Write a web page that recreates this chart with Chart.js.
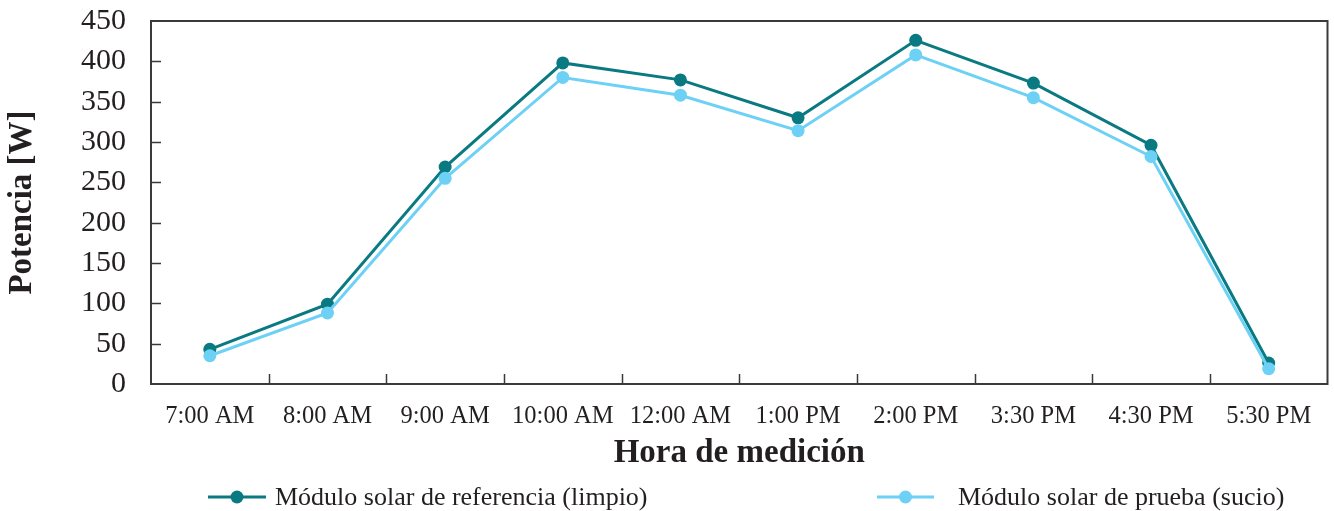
<!DOCTYPE html>
<html>
<head>
<meta charset="utf-8">
<script src="https://cdn.jsdelivr.net/npm/chart.js@4.4.1/dist/chart.umd.min.js"></script>
<style>
  html, body { margin: 0; padding: 0; background: #ffffff; }
  #wrap { width: 1334px; height: 511px; }
</style>
</head>
<body>
<div id="wrap"><canvas id="c" width="1334" height="511"></canvas></div>
<script>
// Hora de medición y potencia medida [W]
const horas = ['7:00 AM', '8:00 AM', '9:00 AM', '10:00 AM', '12:00 AM', '1:00 PM', '2:00 PM', '3:30 PM', '4:30 PM', '5:30 PM'];
const potenciaLimpio = [43, 99, 269, 398, 377, 330, 426, 373, 296, 26];
const potenciaSucio = [35, 88, 255, 380, 358, 314, 408, 355, 282, 19];
const yMin = 0;
const yMax = 450;
const yPaso = 50;

const serif = 'Liberation Serif';
const tinta = '#231f20';
const colorLimpio = '#0a7a82';
const colorSucio = '#6dd0f5';

// Marco del área de trazado con marcas de graduación hacia dentro
const marcoPlugin = {
  id: 'marco',
  beforeDatasetsDraw(chart) {
    const { ctx, chartArea: a, scales: { x, y } } = chart;
    ctx.save();
    ctx.strokeStyle = '#3a3a3a';
    ctx.lineWidth = 2;
    ctx.strokeRect(a.left, a.top, a.right - a.left, a.bottom - a.top);
    ctx.lineWidth = 1.5;
    ctx.beginPath();
    y.ticks.forEach(t => {
      if (t.value <= yMin || t.value >= yMax) return;
      const py = Math.round(y.getPixelForValue(t.value)) + 0.5;
      ctx.moveTo(a.left, py);
      ctx.lineTo(a.left + 10, py);
    });
    for (let i = 1; i < horas.length; i++) {
      const px = Math.round((x.getPixelForValue(i - 1) + x.getPixelForValue(i)) / 2) + 0.5;
      ctx.moveTo(px, a.bottom);
      ctx.lineTo(px, a.bottom - 10);
    }
    ctx.stroke();
    ctx.restore();
  }
};

// Leyenda inferior: línea con marcador y texto de cada serie
const leyendaPlugin = {
  id: 'leyenda',
  afterDraw(chart, args, opts) {
    const { ctx } = chart;
    ctx.save();
    ctx.font = `${opts.size}px "${serif}"`;
    ctx.textBaseline = 'middle';
    opts.items.forEach(it => {
      const ds = chart.data.datasets[it.dataset];
      ctx.strokeStyle = ds.borderColor;
      ctx.lineWidth = ds.borderWidth;
      ctx.beginPath();
      ctx.moveTo(it.x0, opts.y);
      ctx.lineTo(it.x1, opts.y);
      ctx.stroke();
      ctx.fillStyle = ds.pointBackgroundColor;
      ctx.beginPath();
      ctx.arc((it.x0 + it.x1) / 2, opts.y, ds.pointRadius, 0, Math.PI * 2);
      ctx.fill();
      ctx.fillStyle = tinta;
      ctx.fillText(ds.label, it.tx, opts.y + 1);
    });
    ctx.restore();
  }
};

new Chart(document.getElementById('c'), {
  type: 'line',
  data: {
    labels: horas,
    datasets: [
      {
        label: 'Módulo solar de referencia (limpio)',
        data: potenciaLimpio,
        borderColor: colorLimpio,
        backgroundColor: colorLimpio,
        pointBackgroundColor: colorLimpio,
        pointBorderWidth: 0,
        pointRadius: 6.5,
        borderWidth: 3,
        tension: 0,
        order: 1
      },
      {
        label: 'Módulo solar de prueba (sucio)',
        data: potenciaSucio,
        borderColor: colorSucio,
        backgroundColor: colorSucio,
        pointBackgroundColor: colorSucio,
        pointBorderWidth: 0,
        pointRadius: 6.5,
        borderWidth: 3,
        tension: 0,
        order: 0
      }
    ]
  },
  options: {
    responsive: false,
    animation: false,
    events: [],
    layout: { padding: { top: 21, right: 6, bottom: 41, left: 0 } },
    plugins: {
      legend: { display: false },
      tooltip: { enabled: false },
      leyenda: {
        y: 497,
        size: 26,
        items: [
          { dataset: 0, x0: 208, x1: 266, tx: 275 },
          { dataset: 1, x0: 877, x1: 934, tx: 958 }
        ]
      }
    },
    scales: {
      x: {
        offset: true,
        grid: { display: false, drawTicks: false },
        border: { display: false },
        ticks: {
          font: { family: serif, size: 24.5 },
          color: tinta,
          padding: 18,
          maxRotation: 0,
          autoSkip: false
        },
        title: {
          display: true,
          text: 'Hora de medición',
          color: tinta,
          font: { family: serif, size: 33, weight: 'bold', lineHeight: 1 },
          padding: { top: 0, bottom: 0 }
        },
        afterFit(s) {
          s.height = 86;
          s.paddingLeft = 0;
          s.paddingRight = 0;
        }
      },
      y: {
        min: yMin,
        max: yMax,
        grid: { display: false, drawTicks: false },
        border: { display: false },
        ticks: {
          stepSize: yPaso,
          font: { family: serif, size: 30 },
          color: tinta,
          padding: 25
        },
        title: {
          display: true,
          text: 'Potencia [W]',
          color: tinta,
          font: { family: serif, size: 33, weight: 'bold', lineHeight: 1 },
          padding: { top: 6, bottom: 0 }
        },
        afterFit(s) {
          s.width = 151;
          s.paddingTop = 0;
          s.paddingBottom = 0;
        }
      }
    }
  },
  plugins: [marcoPlugin, leyendaPlugin]
});
</script>
</body>
</html>
